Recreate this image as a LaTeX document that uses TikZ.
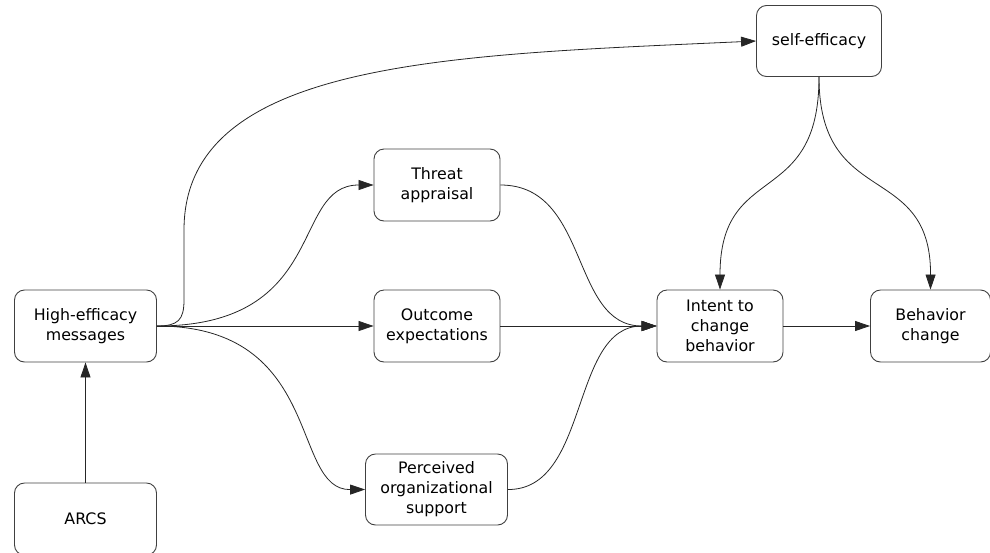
\documentclass[tikz,border=0pt]{standalone}
\usepackage{fontspec}
\setmainfont{DejaVu Sans}
\usetikzlibrary{arrows.meta}
\begin{document}
\begin{tikzpicture}[x=1pt,y=-1pt,
  box/.style={draw=black!75, line width=0.9pt, rounded corners=10pt,
    minimum width=126pt, minimum height=72pt, inner sep=2pt, align=center,
    font=\fontsize{15.8}{20}\selectfont},
  widebox/.style={box, minimum width=142pt},
  arr/.style={draw=black!85, line width=0.8pt, -{Triangle[length=15pt,width=10pt]}}]
\useasboundingbox (0,0) rectangle (990,552);

% boxes
\node[widebox] (high) at (85.5,326) {High-efficacy\\messages};
\node[widebox] (arcs) at (85.5,519) {ARCS};
\node[box] (threat) at (437,185) {Threat\\appraisal};
\node[box] (outcome) at (437,326) {Outcome\\expectations};
\node[widebox, minimum height=71pt] (perceived) at (436.5,489.5) {Perceived\\organizational\\support};
\node[box] (intent) at (720,326) {Intent to\\change\\behavior};
\node[box, minimum width=120pt] (beh) at (930.5,326) {Behavior\\change};
\node[box, minimum width=125pt, minimum height=71pt] (self) at (819,41) {self-efficacy};

% connectors
\draw[arr] (arcs.north) -- (high.south);
\draw[arr] (high.east) .. controls (178,326) and (184,320) .. (184,300)
  -- (184,230) .. controls (184,60) and (450,55) .. (self.west);
\draw[arr] (high.east) .. controls (330,326) and (290,185) .. (threat.west);
\draw[arr] (high.east) -- (outcome.west);
\draw[arr] (high.east) .. controls (325,326) and (290,490) .. (perceived.west);
\draw[arr] (threat.east) .. controls (590,185) and (570,326) .. (intent.west);
\draw[arr] (outcome.east) -- (intent.west);
\draw[arr] (perceived.east) .. controls (590,490) and (570,326) .. (intent.west);
\draw[arr] (intent.east) -- (beh.west);
\draw[arr] (self.south) .. controls (819,210) and (720,160) .. (intent.north);
\draw[arr] (self.south) .. controls (819,210) and (931,160) .. (beh.north);
\end{tikzpicture}
\end{document}
